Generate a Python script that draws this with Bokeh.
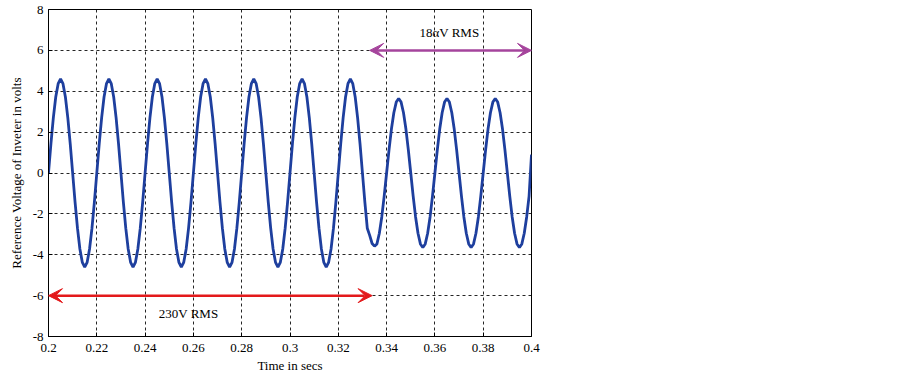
from bokeh.plotting import figure
from bokeh.models import Arrow, VeeHead, Label, FixedTicker, Range1d, ColumnDataSource
from bokeh.embed import file_html
from bokeh.resources import INLINE

# ---- data ----
x_ticks = [0.2, 0.22, 0.24, 0.26, 0.28, 0.3, 0.32, 0.34, 0.36, 0.38, 0.4]
x_tick_labels = ["0.2", "0.22", "0.24", "0.26", "0.28", "0.3", "0.32", "0.34", "0.36", "0.38", "0.4"]
y_ticks = [-8, -6, -4, -2, 0, 2, 4, 6, 8]
y_tick_labels = ["-8", "-6", "-4", "-2", "0", "2", "4", "6", "8"]

# sample times, 1 ms apart, 0.200 s .. 0.400 s
time_s = [round(0.2 + 0.001 * i, 3) for i in range(201)]

# reference voltage samples (V)
voltage = [
    # 0.200 - 0.219
    0.00, 1.42, 2.70, 3.72, 4.37, 4.60, 4.37, 3.72, 2.70, 1.42,
    0.00, -1.42, -2.70, -3.72, -4.37, -4.60, -4.37, -3.72, -2.70, -1.42,
    # 0.220 - 0.239
    0.00, 1.42, 2.70, 3.72, 4.37, 4.60, 4.37, 3.72, 2.70, 1.42,
    0.00, -1.42, -2.70, -3.72, -4.37, -4.60, -4.37, -3.72, -2.70, -1.42,
    # 0.240 - 0.259
    0.00, 1.42, 2.70, 3.72, 4.37, 4.60, 4.37, 3.72, 2.70, 1.42,
    0.00, -1.42, -2.70, -3.72, -4.37, -4.60, -4.37, -3.72, -2.70, -1.42,
    # 0.260 - 0.279
    0.00, 1.42, 2.70, 3.72, 4.37, 4.60, 4.37, 3.72, 2.70, 1.42,
    0.00, -1.42, -2.70, -3.72, -4.37, -4.60, -4.37, -3.72, -2.70, -1.42,
    # 0.280 - 0.299
    0.00, 1.42, 2.70, 3.72, 4.37, 4.60, 4.37, 3.72, 2.70, 1.42,
    0.00, -1.42, -2.70, -3.72, -4.37, -4.60, -4.37, -3.72, -2.70, -1.42,
    # 0.300 - 0.319
    0.00, 1.42, 2.70, 3.72, 4.37, 4.60, 4.37, 3.72, 2.70, 1.42,
    0.00, -1.42, -2.70, -3.72, -4.37, -4.60, -4.37, -3.72, -2.70, -1.42,
    # 0.320 - 0.339
    0.00, 1.42, 2.70, 3.72, 4.37, 4.60, 4.37, 3.72, 2.70, 1.42,
    0.00, -1.42, -2.70, -3.05, -3.45, -3.58, -3.47, -2.95, -2.15, -1.13,
    # 0.340 - 0.359
    0.00, 1.13, 2.15, 2.95, 3.47, 3.65, 3.47, 2.95, 2.15, 1.13,
    0.00, -1.13, -2.15, -2.95, -3.47, -3.65, -3.47, -2.95, -2.15, -1.13,
    # 0.360 - 0.379
    0.00, 1.13, 2.15, 2.95, 3.47, 3.65, 3.47, 2.95, 2.15, 1.13,
    0.00, -1.13, -2.15, -2.95, -3.47, -3.65, -3.47, -2.95, -2.15, -1.13,
    # 0.380 - 0.399
    0.00, 1.13, 2.15, 2.95, 3.47, 3.65, 3.47, 2.95, 2.15, 1.13,
    0.00, -1.13, -2.15, -2.95, -3.47, -3.65, -3.47, -2.95, -2.15, -1.13,
    # 0.400
    0.90,
]

rms_230_span = [0.2, 0.334]
rms_230_level = -6
rms_230_text = "230V RMS"
rms_230_pos = [0.258, -6.87]

rms_180_span = [0.333, 0.4]
rms_180_level = 6
rms_180_text = "18\u03b1V RMS"
rms_180_pos = [0.366, 6.87]

# ---- figure ----
FONT = "Liberation Serif"
p = figure(width=545, height=375, output_backend="svg", toolbar_location=None,
           x_range=Range1d(0.2, 0.4), y_range=Range1d(-8, 8),
           min_border_left=48, min_border_right=14, min_border_top=9, min_border_bottom=39,
           x_axis_label="Time in secs", y_axis_label="Reference Voltage of Inveter in volts")
p.background_fill_color = "white"
p.border_fill_color = "white"
p.outline_line_color = "black"
p.outline_line_width = 1

for ax in (p.xaxis[0], p.yaxis[0]):
    ax.axis_label_text_font = FONT
    ax.axis_label_text_font_style = "normal"
    ax.axis_label_text_font_size = "13px"
    ax.axis_label_text_color = "black"
    ax.major_label_text_font = FONT
    ax.major_label_text_font_size = "13px"
    ax.major_label_text_color = "black"
    ax.axis_line_color = "black"
    ax.major_tick_line_color = "black"
    ax.major_tick_in = 4
    ax.major_tick_out = 0
    ax.minor_tick_line_color = None
    ax.axis_label_standoff = 4

p.xaxis[0].major_label_standoff = 7
p.yaxis[0].major_label_standoff = 5
p.xaxis[0].axis_label_standoff = 3
p.yaxis[0].axis_label_standoff = 6

p.xaxis[0].ticker = FixedTicker(ticks=x_ticks)
p.xaxis[0].major_label_overrides = {t: l for t, l in zip(x_ticks, x_tick_labels)}
p.yaxis[0].ticker = FixedTicker(ticks=y_ticks)
p.yaxis[0].major_label_overrides = {t: l for t, l in zip(y_ticks, y_tick_labels)}

for g in (p.xgrid[0], p.ygrid[0]):
    g.grid_line_color = "black"
    g.grid_line_dash = "3 3"
    g.grid_line_width = 1
    g.grid_line_alpha = 0.85

src = ColumnDataSource(dict(t=time_s, v=voltage))
p.line("t", "v", source=src, line_color="#1e3f9e", line_width=2.8)

red = "#e3191b"
mag = "#a5449c"
p.add_layout(Arrow(x_start=rms_230_span[0], x_end=rms_230_span[1],
                   y_start=rms_230_level, y_end=rms_230_level,
                   line_color=red, line_width=2.5,
                   start=VeeHead(size=14, fill_color=red, line_color=red),
                   end=VeeHead(size=14, fill_color=red, line_color=red)))
p.add_layout(Arrow(x_start=rms_180_span[0], x_end=rms_180_span[1],
                   y_start=rms_180_level, y_end=rms_180_level,
                   line_color=mag, line_width=2.5,
                   start=VeeHead(size=14, fill_color=mag, line_color=mag),
                   end=VeeHead(size=14, fill_color=mag, line_color=mag)))

p.add_layout(Label(x=rms_230_pos[0], y=rms_230_pos[1], text=rms_230_text,
                   text_font=FONT, text_font_size="13px", text_color="black",
                   text_align="center", text_baseline="middle"))
p.add_layout(Label(x=rms_180_pos[0], y=rms_180_pos[1], text=rms_180_text,
                   text_font=FONT, text_font_size="13px", text_color="black",
                   text_align="center", text_baseline="middle"))

open("out.html", "w").write(file_html(p, INLINE))
